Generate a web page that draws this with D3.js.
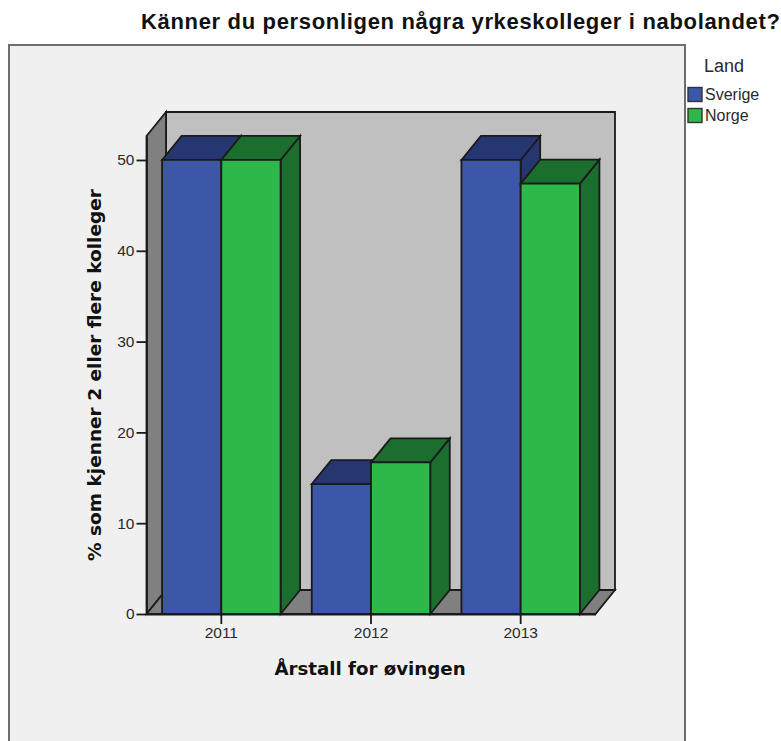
<!DOCTYPE html>
<html><head><meta charset="utf-8">
<script src="https://cdnjs.cloudflare.com/ajax/libs/d3/7.8.5/d3.min.js"></script>
<style>html,body{margin:0;padding:0;background:#fff}svg{display:block}text{font-family:"Liberation Sans",Arial,sans-serif;fill:#111}</style>
</head><body><svg id="c" width="781" height="741"></svg>
<script>
const years = ["2011","2012","2013"];
const seriesNames = ["Sverige","Norge"];
const sverige = [50,14.3,50];
const norge = [50,16.7,47.4];
const yTicks = [0,10,20,30,40,50];
const seriesValues = [sverige,norge];
const frontColors = ["#3c56a8","#2eb84c"];
const sideColors = ["#263670","#1b6e2d"];
const topColors = ["#263670","#1b6e2d"];
const titleText = "Känner du personligen några yrkeskolleger i nabolandet?";
const yTitle = "% som kjenner 2 eller flere kolleger";
const xTitle = "Årstall for øvingen";
const legendTitle = "Land";

const svg = d3.select("#c");
const dx = 19.5, dy = 24, lineC = "#1a1a1a";
const x = d3.scaleBand().domain(years).range([146.5,595.5]);
const xInner = d3.scaleBand().domain([0,1]).range([0,118.5]);
const y = d3.scaleLinear().domain([0,52.64]).range([614,136]);
const [xL,xR] = x.range();
const yB = y(0), yT = y.range()[1];
const poly = (pts,fill,sw=1.8,stroke=lineC) => svg.append("polygon")
  .attr("points",pts.map(p=>p.join(",")).join(" "))
  .attr("fill",fill).attr("stroke",stroke).attr("stroke-width",sw).attr("stroke-linejoin","miter");

// frame
svg.append("rect").attr("x",9).attr("y",45).attr("width",676).attr("height",720)
  .attr("fill","#f0f0f0").attr("stroke","#6e6e6e").attr("stroke-width",2);

// walls & floor
poly([[xL+dx,yT-dy],[xR+dx,yT-dy],[xR+dx,yB-dy],[xL+dx,yB-dy]],"#c0c0c0");
poly([[xL,yT],[xL+dx,yT-dy],[xL+dx,yB-dy],[xL,yB]],"#808080");
poly([[xL,yB],[xL+dx,yB-dy],[xR+dx,yB-dy],[xR,yB]],"#808080");

// bars
years.forEach((yr,i)=>{
  const x0 = x(yr)+(x.bandwidth()-118.5)/2;
  [0,1].forEach(s=>{
    const v = seriesValues[s][i];
    const a = x0+xInner(s), b = a+xInner.bandwidth(), t = y(v);
    poly([[b,t],[b+dx,t-dy],[b+dx,yB-dy],[b,yB]],sideColors[s]);
    poly([[a,t],[a+dx,t-dy],[b+dx,t-dy],[b,t]],topColors[s]);
    poly([[a,t],[b,t],[b,yB],[a,yB]],frontColors[s]);
  });
});

// axes
const gy = svg.append("g").attr("transform",`translate(${xL},0)`)
  .call(d3.axisLeft(y).tickValues(yTicks).tickSizeInner(10).tickSizeOuter(0).tickPadding(2).tickFormat(d3.format("d")));
const gx = svg.append("g").attr("transform",`translate(0,${yB})`)
  .call(d3.axisBottom(x).tickSizeInner(10).tickSizeOuter(0).tickPadding(3));
[gy,gx].forEach(g=>{
  g.selectAll("text").attr("font-size",15.5).style("fill","#2a2a2a");
  g.selectAll("line").attr("stroke",lineC).attr("stroke-width",1.8);
  g.select(".domain").attr("stroke",lineC).attr("stroke-width",1.8);
});

// titles
svg.append("text").attr("x",141).attr("y",29).attr("font-size",22).attr("letter-spacing",0.67).attr("font-weight","bold").text(titleText);
svg.append("text").attr("x",370).attr("y",675).attr("text-anchor","middle").attr("font-size",18.2).attr("font-weight","bold").style("font-family","'DejaVu Sans'").text(xTitle);
svg.append("text").attr("transform","translate(101,375) rotate(-90)").attr("text-anchor","middle").attr("font-size",18.5).attr("font-weight","bold").style("font-family","'DejaVu Sans'").text(yTitle);

// legend
svg.append("text").attr("x",704).attr("y",72).attr("font-size",18).style("fill","#2a2a2a").text(legendTitle);
seriesNames.forEach((n,i)=>{
  const cy = 94.5+i*21;
  svg.append("rect").attr("x",688).attr("y",cy-7).attr("width",14).attr("height",14)
    .attr("fill",frontColors[i]).attr("stroke","#333").attr("stroke-width",1.4);
  svg.append("text").attr("x",705).attr("y",cy+5.5).attr("font-size",16).style("fill","#2a2a2a").text(n);
});
</script></body></html>
